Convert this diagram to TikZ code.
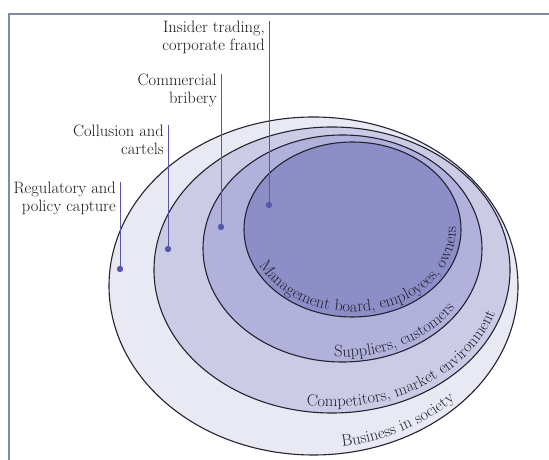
\documentclass[tikz,border=0pt]{standalone}
\usepackage{tikz}
\usetikzlibrary{decorations.text}
\definecolor{ringsociety}{RGB}{233,233,243}
\definecolor{ringmarket}{RGB}{203,203,230}
\definecolor{ringpartner}{RGB}{177,177,219}
\definecolor{ringcore}{RGB}{141,141,199}
\definecolor{ringline}{RGB}{35,35,50}
\definecolor{pinblue}{RGB}{88,88,170}
\definecolor{framegray}{RGB}{128,138,170}
\newcommand{\labelfont}{\fontsize{16.5}{18}\selectfont}
\tikzset{ring/.style={fill=#1,draw=ringline,line width=1.1pt},ring/.default=ringsociety}
\tikzset{crime/.style={inner sep=0pt,anchor=north east,align=right,text=black!90,font=\labelfont}}
\tikzset{pin/.style={pinblue,line width=0.9pt}}
\tikzset{ringtext/.style={decorate,decoration={text along path,text align=center,
	text color=ringline,text={|\labelfont|#1}}}}

\begin{document}
\begin{tikzpicture}[x=1pt,y=1pt]

		\useasboundingbox (0,0) rectangle (549,460);

		\coordinate (Csociety) at (313.5,174);
		\coordinate (Cmarket) at (332,190);
		\coordinate (Cpartner) at (342.5,211.5);
		\coordinate (Ccore) at (352.5,230.5);

		\coordinate (Preg) at (120,191);
		\coordinate (Pcol) at (168,211);
		\coordinate (Pcom) at (221,233);
		\coordinate (Pins) at (269,255);

		\draw [framegray,line width=1.2pt] (9,0) -- (9,446) -- (549,446);

		\draw [ring=ringsociety] (Csociety) ellipse [x radius=204.5,y radius=169];
		\draw [ring=ringmarket] (Cmarket) ellipse [x radius=178,y radius=143];
		\draw [ring=ringpartner] (Cpartner) ellipse [x radius=139.5,y radius=113.5];
		\draw [ring=ringcore] (Ccore) ellipse [x radius=108.5,y radius=87.5];

		\path [ringtext={Management board, employees, owners}] (Ccore) ++(186:103.5 and 82.5)
			arc [start angle=186,end angle=382,x radius=103.5,y radius=82.5];
		\path [ringtext={Suppliers, customers}] (Cpartner) ++(228:134.5 and 108.5)
			arc [start angle=228,end angle=372,x radius=134.5,y radius=108.5];
		\path [ringtext={Competitors, market environment}] (Cmarket) ++(225:172 and 137)
			arc [start angle=225,end angle=385,x radius=172,y radius=137];
		\path [ringtext={Business in society}] (Csociety) ++(240:198 and 162.5)
			arc [start angle=240,end angle=360,x radius=198,y radius=162.5];

		\node [crime] (reg) at (116,278) {Regulatory and\\policy capture};
		\node [crime] (col) at (164,335) {Collusion and\\cartels};
		\node [crime] (com) at (217,386) {Commercial\\bribery};
		\node [crime] (ins) at (265,439) {Insider trading,\\corporate fraud};

		\draw [pin] (Preg) -- (Preg |- reg.north);
		\draw [pin] (Pcol) -- (Pcol |- col.north);
		\draw [pin] (Pcom) -- (Pcom |- com.north);
		\draw [pin] (Pins) -- (Pins |- ins.north);

		\fill [pinblue] (Preg) circle (3.2);
		\fill [pinblue] (Pcol) circle (3.2);
		\fill [pinblue] (Pcom) circle (3.2);
		\fill [pinblue] (Pins) circle (3.2);

	\end{tikzpicture}
\end{document}
